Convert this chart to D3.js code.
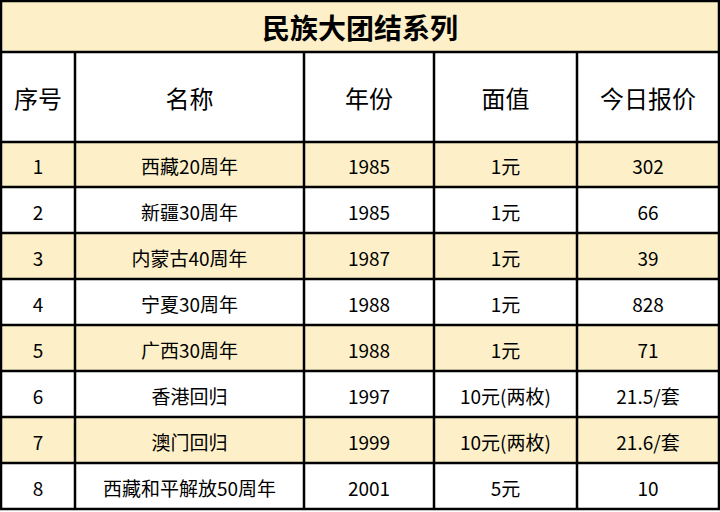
<!DOCTYPE html><html><head><meta charset="utf-8"><script src="https://cdn.jsdelivr.net/npm/d3@7"></script>
<style>body{margin:0;background:#fff}</style></head><body><svg id="c" width="720" height="512"></svg><script>
const title="民族大团结系列";
const headers=["序号","名称","年份","面值","今日报价"];
const ids=["1","2","3","4","5","6","7","8"];
const names=["西藏20周年","新疆30周年","内蒙古40周年","宁夏30周年","广西30周年","香港回归","澳门回归","西藏和平解放50周年"];
const years=["1985","1985","1987","1988","1988","1997","1999","2001"];
const faces=["1元","1元","1元","1元","1元","10元(两枚)","10元(两枚)","5元"];
const prices=["302","66","39","828","71","21.5/套","21.6/套","10"];
const svg=d3.select("#c"),F="'Noto Sans CJK SC',sans-serif",fill="#fdf0c8";
const colEdges=[1,75,304,434,577,719];
const rowEdges=[142,187,233,279,325,371,417,463,509];
svg.append("rect").attr("x",1).attr("y",1).attr("width",718).attr("height",51).attr("fill",fill);
svg.append("text").attr("x",360).attr("y",27).attr("text-anchor","middle").attr("dominant-baseline","central")
 .attr("font-family",F).attr("font-weight","bold").attr("font-size",28).text(title);
headers.forEach((h,i)=>svg.append("text").attr("x",(colEdges[i]+colEdges[i+1])/2).attr("y",97).attr("text-anchor","middle")
 .attr("dominant-baseline","central").attr("font-family",F).attr("font-size",24).text(h));
const rows=ids.map((d,i)=>[d,names[i],years[i],faces[i],prices[i]]);
rows.forEach((r,i)=>{
 const y0=rowEdges[i],y1=rowEdges[i+1];
 if(i%2==0) svg.append("rect").attr("x",1).attr("y",y0).attr("width",718).attr("height",y1-y0).attr("fill",fill);
 r.forEach((t,j)=>svg.append("text").attr("x",(colEdges[j]+colEdges[j+1])/2).attr("y",(y0+y1)/2+1).attr("text-anchor","middle")
  .attr("dominant-baseline","central").attr("font-family",F).attr("font-size",19).text(t));
});
const L=(x1,y1,x2,y2)=>svg.append("line").attr("x1",x1).attr("y1",y1).attr("x2",x2).attr("y2",y2).attr("stroke","#000").attr("stroke-width",2.5);
[1,52,...rowEdges].forEach(y=>L(0,y,720,y));
colEdges.forEach((x,i)=>L(x,(i==0||i==5)?0:52,x,510));
</script></body></html>
